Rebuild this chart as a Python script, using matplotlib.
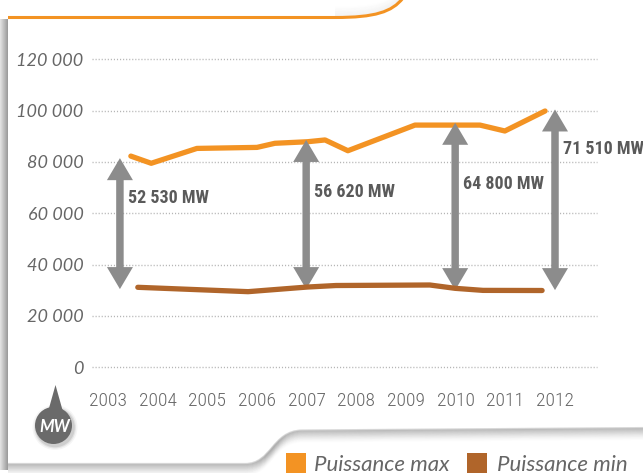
import numpy as np
import matplotlib
matplotlib.use("Agg")
import matplotlib.pyplot as plt
from matplotlib.patches import Circle, Polygon, Rectangle, PathPatch
from matplotlib.path import Path

# ---------------- data ----------------
years = [2003, 2004, 2005, 2006, 2007, 2008, 2009, 2010, 2011, 2012]
y_ticks = [0, 20000, 40000, 60000, 80000, 100000, 120000]
y_tick_labels = ["0", "20 000", "40 000", "60 000", "80 000", "100 000", "120 000"]

max_x = [2003.46, 2003.87, 2004.79, 2006.00, 2006.36, 2007.01, 2007.37, 2007.83,
         2009.18, 2010.49, 2010.99, 2011.80]
max_v = [82300, 79500, 85300, 85700, 87300, 87900, 88600, 84400,
         94400, 94400, 92100, 99900]

min_x = [2003.60, 2005.82, 2007.01, 2007.59, 2009.48, 2009.99, 2010.55, 2011.74]
min_v = [31100, 29400, 31200, 31800, 32000, 30700, 29900, 29850]

arrow_x = [2003.24, 2006.99, 2009.99, 2012.00]
arrow_top = [81500, 88600, 95300, 100500]
arrow_bottom = [30400, 30400, 30000, 30000]
arrow_labels = ["52 530 MW", "56 620 MW", "64 800 MW", "71 510 MW"]
arrow_label_y = [65900, 68300, 71400, 85000]

series_names = ["Puissance max", "Puissance min"]
series_colors = ["#F39323", "#B0652A"]

# ---------------- style ----------------
W, H = 643, 473
DPI = 100
ORANGE, BROWN = series_colors
GREY_ARROW = "#8C8C8C"
TXT = "#666666"
NARROW = ["Noto Sans Condensed", "Roboto Condensed", "Liberation Sans Narrow",
          "Liberation Sans", "DejaVu Sans"]
ITAL = ["Lato", "DejaVu Sans"]

fig = plt.figure(figsize=(W / DPI, H / DPI), dpi=DPI, facecolor="white")

# decoration layer in pixel coordinates
deco = fig.add_axes([0, 0, 1, 1], zorder=0)
deco.set_xlim(0, W)
deco.set_ylim(H, 0)
deco.axis("off")

# left shadow strip
grad = np.linspace(0, 1, 20)[None, :]
deco.imshow(grad, extent=(0, 8, 470, 20), cmap=matplotlib.colors.LinearSegmentedColormap.from_list(
    "sh", ["#e4e4e4", "#9a9a9a"]), aspect="auto", zorder=1)

# top orange edge with curve
top_path = Path([(8, 17.5), (335, 17.5), (375, 17.5), (392, 12), (403, -2)],
                [Path.MOVETO, Path.LINETO, Path.CURVE4, Path.CURVE4, Path.CURVE4])
for i in range(1, 9):
    sh = Path(top_path.vertices + np.array([0, -i * 1.2]), top_path.codes)
    deco.add_patch(PathPatch(sh, fill=False, lw=2, ec="#999999",
                             alpha=0.05 * (9 - i) / 8, zorder=1, capstyle="butt"))
deco.add_patch(Rectangle((0, -5), 335, 21.5, fc="white", ec="none", zorder=1.5))
deco.add_patch(PathPatch(top_path, fill=False, lw=2.2, ec=ORANGE, zorder=2))

# bottom edge with shadow
bot_path = Path([(8, 464), (245, 464), (272, 464), (272, 431), (302, 430.5), (650, 428)],
                [Path.MOVETO, Path.LINETO, Path.CURVE4, Path.CURVE4, Path.CURVE4, Path.LINETO])
for i in range(12):
    sh = Path(bot_path.vertices + np.array([0, i * 1.0]), bot_path.codes)
    deco.add_patch(PathPatch(sh, fill=False, lw=1.6, ec="#777777",
                             alpha=0.28 * (1 - i / 12) ** 1.5, zorder=1))

# MW badge
for r, a in [(22.5, 0.06), (21, 0.1), (19.8, 0.15)]:
    deco.add_patch(Circle((55, 427.5), r, fc="#555555", ec="none", alpha=a, zorder=2))
deco.add_patch(Polygon([(55.5, 385), (48.5, 410), (62.5, 410)], closed=True,
                       fc="#6a6a6a", ec="none", zorder=3))
deco.add_patch(Circle((53.5, 425.5), 18.5, fc="#6a6a6a", ec="none", zorder=3))
deco.text(54.5, 427, "MW", color="white", fontsize=12, fontweight="bold",
          fontstyle="italic", ha="center", va="center", family=ITAL, zorder=4)

# legend (manual)
leg_sq_x = [286, 467]
leg_tx_x = [314, 497]
for name, col, sx, tx in zip(series_names, series_colors, leg_sq_x, leg_tx_x):
    deco.add_patch(Rectangle((sx, 453), 19.5, 22, fc=col, ec="none", zorder=3))
    deco.text(tx, 470.5, name, color=TXT, fontsize=16, fontstyle="italic",
              fontweight="normal", family=ITAL, ha="left", va="baseline", zorder=3)

# ---------------- main chart ----------------
x_left_px, x_right_px = 92, 597
y0_px, y120_px = 367, 59.5
ax = fig.add_axes([x_left_px / W, 1 - y0_px / H,
                   (x_right_px - x_left_px) / W, (y0_px - y120_px) / H], zorder=2)
ax.patch.set_alpha(0)
px_per_year = (555 - 108) / 9
ax.set_xlim(2003 - (108 - x_left_px) / px_per_year, 2003 + (x_right_px - 108) / px_per_year)
ax.set_ylim(0, 120000)
for s in ax.spines.values():
    s.set_visible(False)

for v in y_ticks:
    ax.axhline(v, color="#b5b5b5", lw=1.0, ls=(0, (0.8, 1.4)), zorder=1, clip_on=False)

ax.set_yticks(y_ticks)
ax.set_yticklabels(y_tick_labels, fontsize=13, fontstyle="italic", fontweight="normal",
                   family=ITAL, color=TXT)
ax.set_xticks(years)
ax.set_xticklabels([str(y) for y in years], fontsize=14, family=NARROW,
                   stretch="condensed", fontweight="light", color=TXT)
ax.tick_params(axis="y", length=0, pad=6)
ax.tick_params(axis="x", length=0, pad=18)

ax.plot(max_x, max_v, color=ORANGE, lw=3.8, solid_capstyle="round",
        solid_joinstyle="round", zorder=3, clip_on=False)
ax.plot(min_x, min_v, color=BROWN, lw=3.8, solid_capstyle="round",
        solid_joinstyle="round", zorder=5, clip_on=False)

shaft_w = 7 / px_per_year
head_w = 26 / px_per_year
head_l = 22 * 120000 / (y0_px - y120_px)
for xa, t, b, lab, ly in zip(arrow_x, arrow_top, arrow_bottom, arrow_labels, arrow_label_y):
    # two overlapping single-headed arrows, each starting inside the other's head
    for start, end in ((b + head_l * 0.9, t), (t - head_l * 0.9, b)):
        ax.arrow(xa, start, 0, end - start, width=shaft_w, head_width=head_w,
                 head_length=head_l, length_includes_head=True, fc=GREY_ARROW,
                 ec="none", lw=0, zorder=4, clip_on=False)
    ax.text(xa + 8 / px_per_year, ly, lab, fontsize=13, fontweight="bold",
            family=NARROW, stretch="condensed", color="#5a5a5a", ha="left",
            va="center", zorder=6, clip_on=False)

fig.savefig("out.png", dpi=DPI, facecolor="white")
